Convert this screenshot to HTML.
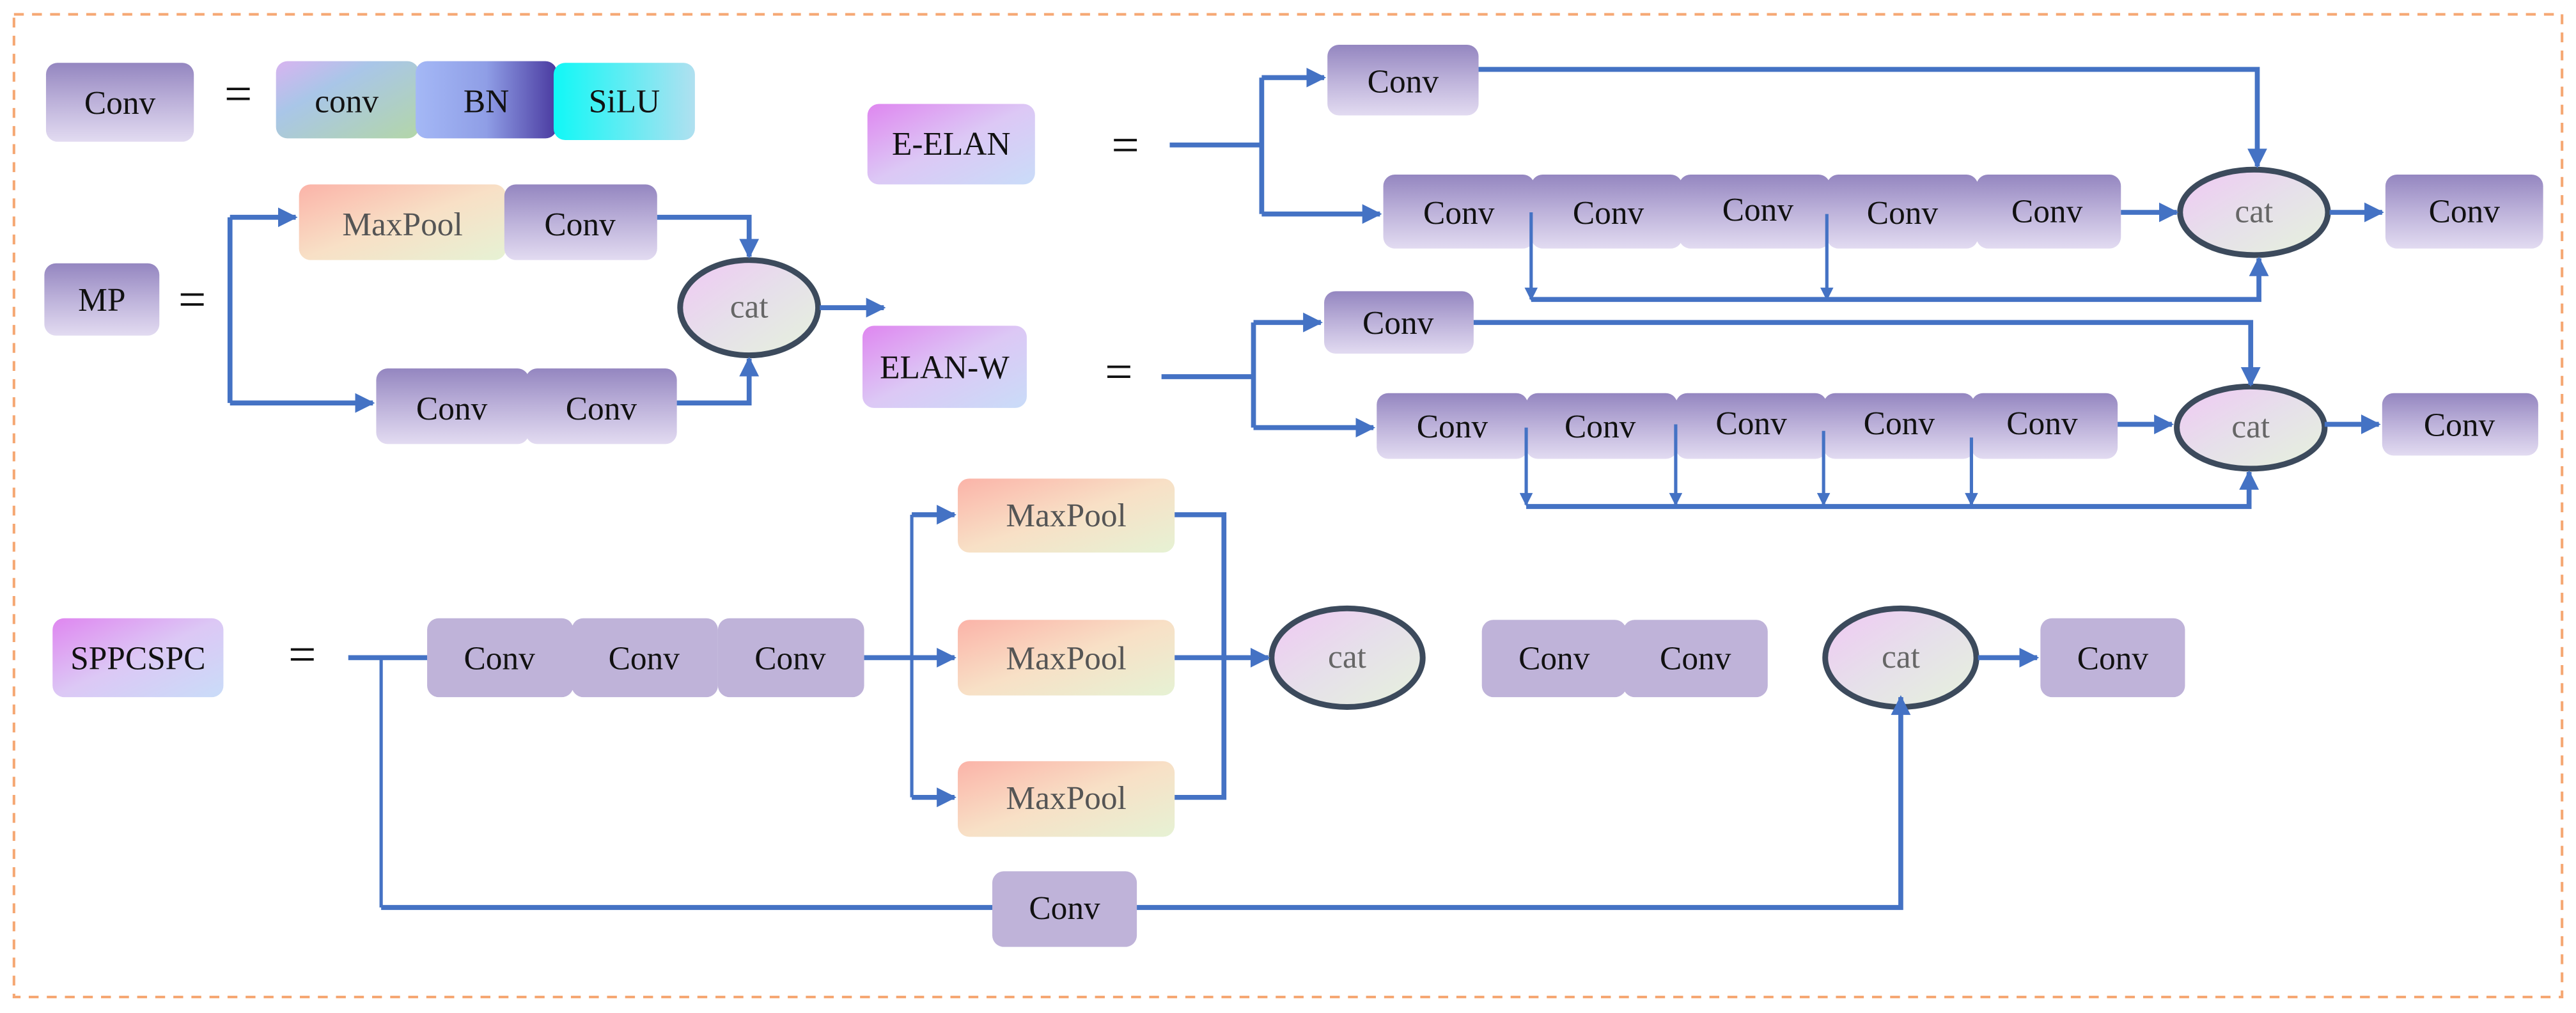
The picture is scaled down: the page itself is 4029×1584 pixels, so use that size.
<!DOCTYPE html>
<html><head><meta charset="utf-8"><style>
html,body{margin:0;padding:0;background:#fff;}
svg{display:block;}
text{font-family:"Liberation Serif",serif;}
</style></head><body>
<svg width="4029" height="1584" viewBox="0 0 1568 616" xmlns="http://www.w3.org/2000/svg">
<defs>
<linearGradient id="cv" x1="0" y1="0" x2="0" y2="1"><stop offset="0" stop-color="#9486c0"/><stop offset="0.5" stop-color="#bdb2da"/><stop offset="1" stop-color="#e2dbf1"/></linearGradient>
<linearGradient id="mp" x1="0" y1="0" x2="1" y2="1"><stop offset="0" stop-color="#fbb3a8"/><stop offset="0.5" stop-color="#f8e0c6"/><stop offset="1" stop-color="#e6f2d4"/></linearGradient>
<linearGradient id="lab" x1="0" y1="0" x2="1" y2="1"><stop offset="0" stop-color="#df86f0"/><stop offset="0.5" stop-color="#dcc8f5"/><stop offset="1" stop-color="#c9dcf8"/></linearGradient>
<linearGradient id="cn" x1="0" y1="0" x2="1" y2="1"><stop offset="0" stop-color="#d8b4f0"/><stop offset="0.35" stop-color="#a9c6e8"/><stop offset="1" stop-color="#b3d6a8"/></linearGradient>
<linearGradient id="bn" x1="0" y1="0" x2="1" y2="0"><stop offset="0" stop-color="#a4b8f6"/><stop offset="0.5" stop-color="#8f9ee6"/><stop offset="1" stop-color="#4a3aa0"/></linearGradient>
<linearGradient id="si" x1="0" y1="0" x2="1" y2="0"><stop offset="0" stop-color="#10f8f6"/><stop offset="1" stop-color="#b0e0f0"/></linearGradient>
<linearGradient id="ct" x1="0" y1="0" x2="1" y2="1"><stop offset="0" stop-color="#f0c8f4"/><stop offset="0.5" stop-color="#e6e0ea"/><stop offset="1" stop-color="#e6f2dc"/></linearGradient>
<marker id="t" viewBox="0 0 10 10" refX="9" refY="5" markerWidth="9" markerHeight="8" orient="auto" markerUnits="userSpaceOnUse"><path d="M0,0L10,5L0,10z" fill="#4472c4"/></marker>
<marker id="T" viewBox="0 0 10 10" refX="9" refY="5" markerWidth="12" markerHeight="14" orient="auto" markerUnits="userSpaceOnUse"><path d="M0,0L10,5L0,10z" fill="#4472c4"/></marker>
</defs>
<rect x="8.5" y="8.5" width="1551" height="598" fill="none" stroke="#f5a874" stroke-width="1.6" stroke-dasharray="6,5"/>

<g font-size="20" text-anchor="middle" fill="#111">
<rect x="28" y="38" width="90" height="48" rx="7" fill="url(#cv)"/><text x="73" y="69">Conv</text>
<text x="145" y="67" font-size="30">=</text>
<rect x="168" y="37" width="87" height="47" rx="7" fill="url(#cn)"/><text x="211" y="68">conv</text>
<rect x="253" y="37" width="86" height="47" rx="7" fill="url(#bn)"/><text x="296" y="68">BN</text>
<rect x="337" y="38" width="86" height="47" rx="7" fill="url(#si)"/><text x="380" y="68">SiLU</text>

<rect x="27" y="160" width="70" height="44" rx="7" fill="url(#cv)"/><text x="62" y="189">MP</text>
<text x="117" y="192" font-size="30">=</text>
<rect x="182" y="112" width="126" height="46" rx="7" fill="url(#mp)"/><text x="245" y="143" fill="#555">MaxPool</text>
<rect x="307" y="112" width="93" height="46" rx="7" fill="url(#cv)"/><text x="353" y="143">Conv</text>
<rect x="229" y="224" width="93" height="46" rx="7" fill="url(#cv)"/><text x="275" y="255">Conv</text>
<rect x="320" y="224" width="92" height="46" rx="7" fill="url(#cv)"/><text x="366" y="255">Conv</text>
<ellipse cx="456" cy="187" rx="42" ry="29" fill="url(#ct)" stroke="#3c4a5c" stroke-width="3.5"/><text x="456" y="193" fill="#666">cat</text>

<rect x="528" y="63" width="102" height="49" rx="7" fill="url(#lab)"/><text x="579" y="94">E-ELAN</text>
<text x="685" y="98" font-size="30">=</text>
<rect x="808" y="27" width="92" height="43" rx="7" fill="url(#cv)"/><text x="854" y="56">Conv</text>
<rect x="842" y="106" width="92" height="45" rx="7" fill="url(#cv)"/><text x="888" y="136">Conv</text>
<rect x="932" y="106" width="92" height="45" rx="7" fill="url(#cv)"/><text x="979" y="136">Conv</text>
<rect x="1022" y="106" width="92" height="45" rx="7" fill="url(#cv)"/><text x="1070" y="134">Conv</text>
<rect x="1112" y="106" width="92" height="45" rx="7" fill="url(#cv)"/><text x="1158" y="136">Conv</text>
<rect x="1203" y="106" width="88" height="45" rx="7" fill="url(#cv)"/><text x="1246" y="135">Conv</text>
<ellipse cx="1372" cy="129" rx="45" ry="26" fill="url(#ct)" stroke="#3c4a5c" stroke-width="3.5"/><text x="1372" y="135" fill="#666">cat</text>
<rect x="1452" y="106" width="96" height="45" rx="7" fill="url(#cv)"/><text x="1500" y="135">Conv</text>

<rect x="525" y="198" width="100" height="50" rx="7" fill="url(#lab)"/><text x="575" y="230">ELAN-W</text>
<text x="681" y="236" font-size="30">=</text>
<rect x="806" y="177" width="91" height="38" rx="7" fill="url(#cv)"/><text x="851" y="203">Conv</text>
<rect x="838" y="239" width="92" height="40" rx="7" fill="url(#cv)"/><text x="884" y="266">Conv</text>
<rect x="929" y="239" width="92" height="40" rx="7" fill="url(#cv)"/><text x="974" y="266">Conv</text>
<rect x="1020" y="239" width="92" height="40" rx="7" fill="url(#cv)"/><text x="1066" y="264">Conv</text>
<rect x="1110" y="239" width="92" height="40" rx="7" fill="url(#cv)"/><text x="1156" y="264">Conv</text>
<rect x="1200" y="239" width="89" height="40" rx="7" fill="url(#cv)"/><text x="1243" y="264">Conv</text>
<ellipse cx="1370" cy="260" rx="45" ry="25" fill="url(#ct)" stroke="#3c4a5c" stroke-width="3.5"/><text x="1370" y="266" fill="#666">cat</text>
<rect x="1450" y="239" width="95" height="38" rx="7" fill="url(#cv)"/><text x="1497" y="265">Conv</text>

<rect x="32" y="376" width="104" height="48" rx="7" fill="url(#lab)"/><text x="84" y="407">SPPCSPC</text>
<text x="184" y="408" font-size="30">=</text>
<rect x="260" y="376" width="89" height="48" rx="7" fill="#bfb3d9"/><text x="304" y="407">Conv</text>
<rect x="348" y="376" width="89" height="48" rx="7" fill="#bfb3d9"/><text x="392" y="407">Conv</text>
<rect x="437" y="376" width="89" height="48" rx="7" fill="#bfb3d9"/><text x="481" y="407">Conv</text>
<rect x="583" y="291" width="132" height="45" rx="7" fill="url(#mp)"/><text x="649" y="320" fill="#555">MaxPool</text>
<rect x="583" y="377" width="132" height="46" rx="7" fill="url(#mp)"/><text x="649" y="407" fill="#555">MaxPool</text>
<rect x="583" y="463" width="132" height="46" rx="7" fill="url(#mp)"/><text x="649" y="492" fill="#555">MaxPool</text>
<ellipse cx="820" cy="400" rx="46" ry="30" fill="url(#ct)" stroke="#3c4a5c" stroke-width="3.5"/><text x="820" y="406" fill="#666">cat</text>
<rect x="902" y="377" width="88" height="47" rx="7" fill="#bfb3d9"/><text x="946" y="407">Conv</text>
<rect x="988" y="377" width="88" height="47" rx="7" fill="#bfb3d9"/><text x="1032" y="407">Conv</text>
<ellipse cx="1157" cy="400" rx="46" ry="30" fill="url(#ct)" stroke="#3c4a5c" stroke-width="3.5"/><text x="1157" y="406" fill="#666">cat</text>
<rect x="1242" y="376" width="88" height="48" rx="7" fill="#bfb3d9"/><text x="1286" y="407">Conv</text>
<rect x="604" y="530" width="88" height="46" rx="7" fill="#bfb3d9"/><text x="648" y="559">Conv</text>
</g>

<g fill="none" stroke="#4472c4" stroke-width="3">
<path d="M140,132V245"/>
<path d="M140,132H180" marker-end="url(#T)"/>
<path d="M140,245H227" marker-end="url(#T)"/>
<path d="M400,132H456V156" marker-end="url(#T)"/>
<path d="M412,245H456V218" marker-end="url(#T)"/>
<path d="M499,187H538" marker-end="url(#T)"/>
<path d="M712,88H768"/>
<path d="M768,47V130"/>
<path d="M768,47H806" marker-end="url(#T)"/>
<path d="M768,130H840" marker-end="url(#T)"/>
<path d="M900,42H1374V101" marker-end="url(#T)"/>
<path d="M1291,129H1325" marker-end="url(#T)"/>
<path d="M1418,129H1450" marker-end="url(#T)"/>
<path d="M932,182H1375V157" marker-end="url(#T)"/>
<path d="M932,129V182" stroke-width="2" marker-end="url(#t)"/>
<path d="M1112,130V182" stroke-width="2" marker-end="url(#t)"/>
<path d="M707,229H763"/>
<path d="M763,196V260"/>
<path d="M763,196H804" marker-end="url(#T)"/>
<path d="M763,260H836" marker-end="url(#T)"/>
<path d="M897,196H1370V234" marker-end="url(#T)"/>
<path d="M1289,258H1322" marker-end="url(#T)"/>
<path d="M1415,258H1448" marker-end="url(#T)"/>
<path d="M929,308H1369V287" marker-end="url(#T)"/>
<path d="M929,260V307" stroke-width="2" marker-end="url(#t)"/>
<path d="M1020,258V307" stroke-width="2" marker-end="url(#t)"/>
<path d="M1110,262V307" stroke-width="2" marker-end="url(#t)"/>
<path d="M1200,266V307" stroke-width="2" marker-end="url(#t)"/>
<path d="M212,400H260"/>
<path d="M232,400V552" stroke-width="2"/>
<path d="M232,552H604"/>
<path d="M692,552H1157V424" marker-end="url(#T)"/>
<path d="M526,400H581" marker-end="url(#T)"/>
<path d="M555,313V485" stroke-width="2"/>
<path d="M555,313H581" marker-end="url(#T)"/>
<path d="M555,485H581" marker-end="url(#T)"/>
<path d="M715,313H745V485H715"/>
<path d="M715,400H772" marker-end="url(#T)"/>
<path d="M1204,400H1240" marker-end="url(#T)"/>
</g>
</svg>
</body></html>
